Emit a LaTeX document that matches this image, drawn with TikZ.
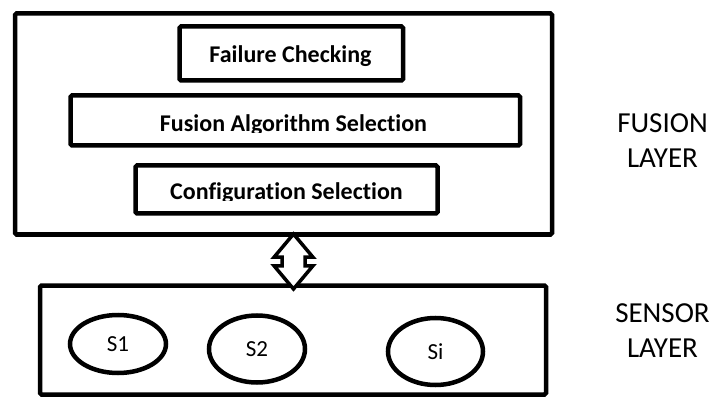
\documentclass[tikz,border=0pt]{standalone}
\usepackage{fontspec}
\setmainfont{Carlito}[Ligatures=NoCommon]
\usetikzlibrary{shapes.geometric, shapes.arrows}
\tikzset{
layer/.style={draw, line width=4.5pt, rounded corners=1.5pt, inner sep=0pt}, % the two big layer boxes
stage/.style={draw, line width=4.5pt, rounded corners=1.5pt, inner sep=0pt}, % boxes inside the fusion layer
stagetext/.style={font=\fontsize{24}{28}\selectfont\bfseries, anchor=base, inner sep=0pt}, % titles of the stages
sensor/.style={ellipse, draw, line width=4.5pt, inner sep=0pt, font=\fontsize{23}{27}\selectfont}, % one sensor
side/.style={align=center, font=\fontsize{29}{35}\selectfont, inner sep=0pt}, % layer names on the right
}

\begin{document}
\begin{tikzpicture}[x=1pt, y=-1pt]
\useasboundingbox (0,0) rectangle (712,398);

% fusion layer
\node[layer, minimum width=537pt, minimum height=221pt] at (283.5,124) (fusion) {};
\node[stage, minimum width=223.5pt, minimum height=54pt] at (291.3,53.5) (check) {};
\node[stage, minimum width=449.5pt, minimum height=50pt] at (295.3,120.5) (algo) {};
\node[stage, minimum width=302pt, minimum height=48pt] at (286.5,189.5) (config) {};

\node[stagetext] at (290.5,63) (checktext) {Failure Checking};
\begin{scope}
\clip (algo.north west) rectangle (algo.east |- 0,133);
\node[stagetext] at (293.5,132) (algotext) {Fusion Algorithm Selection};
\end{scope}
\begin{scope}
\clip (config.north west) rectangle (config.east |- 0,201);
\node[stagetext] at (286.5,200) (configtext) {Configuration Selection};
\end{scope}

% sensor layer
\node[layer, minimum width=506pt, minimum height=109pt] at (293,340) (sensors) {};
\node[sensor, minimum width=96pt, minimum height=58pt] at (118,344) (s1) {S1};
\node[sensor, minimum width=96pt, minimum height=67pt] at (257,349) (s2) {S2};
\node[sensor, minimum width=95pt, minimum height=67pt] at (435.5,351.5) (si) {Si};

% link between the layers
\node[double arrow, draw, fill=white, line width=3.5pt, rotate=90, minimum height=55pt, inner sep=9.75pt, double arrow head extend=8pt, double arrow tip angle=80] at (293.5,261.5) (link) {};

\node[side] at (662.5,141) (fusionname) {FUSION\\LAYER};
\node[side] at (662.5,331) (sensorname) {SENSOR\\LAYER};

\end{tikzpicture}
\end{document}
